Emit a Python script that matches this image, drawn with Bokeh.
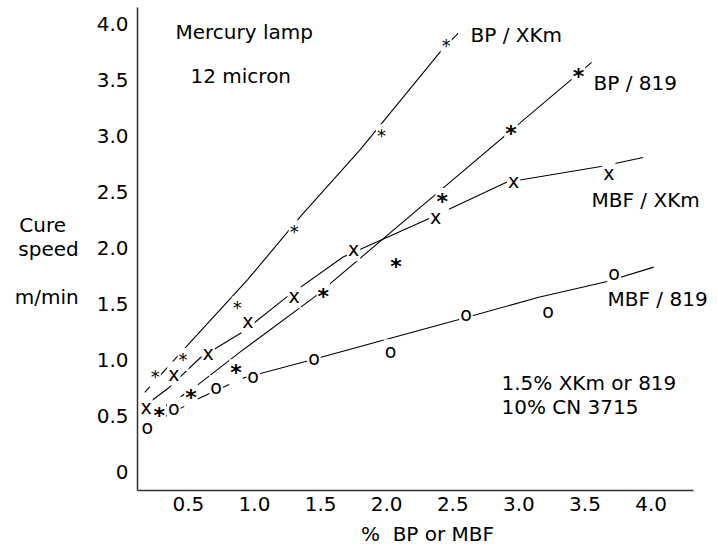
from bokeh.plotting import figure
from bokeh.models import Label, FixedTicker, Range1d
from bokeh.core.properties import value
from bokeh.embed import file_html
from bokeh.resources import INLINE

# ---- data ----
x_ticks = [0.5, 1.0, 1.5, 2.0, 2.5, 3.0, 3.5, 4.0]
y_ticks = [0, 0.5, 1.0, 1.5, 2.0, 2.5, 3.0, 3.5, 4.0]

# BP / XKm  (small *)
bpxkm_x = [0.25, 0.46, 0.87, 1.30, 1.96, 2.45]
bpxkm_y = [0.90, 1.05, 1.51, 2.19, 3.05, 3.86]
bpxkm_line_x = [0.17, 0.50, 0.95, 1.36, 1.80, 2.43, 2.54]
bpxkm_line_y = [0.71, 1.14, 1.72, 2.30, 2.88, 3.79, 3.92]

# BP / 819  (bold *)
bp819_x = [0.28, 0.52, 0.86, 1.52, 2.07, 2.42, 2.94, 3.45]
bp819_y = [0.56, 0.72, 0.94, 1.62, 1.89, 2.47, 3.08, 3.59]
bp819_line_x = [0.23, 0.52, 0.89, 1.45, 2.35, 3.55]
bp819_line_y = [0.52, 0.73, 1.07, 1.56, 2.46, 3.66]

# MBF / XKm  (x)
mbfxkm_x = [0.18, 0.39, 0.65, 0.95, 1.30, 1.75, 2.37, 2.96, 3.68]
mbfxkm_y = [0.57, 0.87, 1.05, 1.34, 1.56, 1.98, 2.27, 2.59, 2.66]
mbfxkm_line_x = [0.18, 0.35, 0.59, 0.91, 1.24, 1.67, 2.33, 2.91, 3.62, 3.94]
mbfxkm_line_y = [0.60, 0.75, 1.02, 1.25, 1.56, 1.92, 2.27, 2.59, 2.73, 2.81]

# MBF / 819  (o)
mbf819_x = [0.19, 0.39, 0.71, 0.99, 1.45, 2.03, 2.60, 3.22, 3.72]
mbf819_y = [0.39, 0.56, 0.75, 0.85, 1.01, 1.07, 1.40, 1.43, 1.77]
mbf819_line_x = [0.21, 0.57, 0.92, 1.40, 1.80, 2.54, 3.15, 3.66, 4.02]
mbf819_line_y = [0.42, 0.65, 0.84, 0.99, 1.12, 1.36, 1.56, 1.70, 1.83]

FONT = "DejaVu Sans"
NB = "\u00a0"

# pixel -> data helpers for annotation placement
def px2x(px):
    return (px - 121.8) / 132.2

def px2y(py):
    return (472.3 - py) / 112.1

p = figure(width=718, height=548, output_backend="svg", toolbar_location=None,
           x_range=Range1d(px2x(137), px2x(717)),
           y_range=Range1d(px2y(491), px2y(7)),
           min_border_left=137, min_border_right=1,
           min_border_top=7, min_border_bottom=57)

p.outline_line_color = None
p.background_fill_color = "white"
p.border_fill_color = "white"
p.xgrid.grid_line_color = None
p.ygrid.grid_line_color = None

for ax in (p.xaxis[0], p.yaxis[0]):
    ax.axis_line_color = "#333333"
    ax.axis_line_width = 1.5
    ax.major_tick_line_color = None
    ax.minor_tick_line_color = None
    ax.major_tick_out = 0
    ax.major_tick_in = 0
    ax.major_label_text_font = FONT
    ax.major_label_text_font_size = "20px"
    ax.major_label_text_color = "black"
    ax.axis_label_text_font = FONT
    ax.axis_label_text_font_size = "20px"
    ax.axis_label_text_font_style = "normal"
    ax.axis_label_text_color = "black"
    ax.axis_label_text_line_height = 1.0

p.xaxis.ticker = FixedTicker(ticks=x_ticks)
p.yaxis.ticker = FixedTicker(ticks=y_ticks)
p.xaxis.major_label_overrides = {t: f"{t:.1f}" for t in x_ticks}
p.yaxis.major_label_overrides = {t: ("0" if t == 0 else f"{t:.1f}") for t in y_ticks}
p.xaxis.major_label_standoff = 6
p.yaxis.major_label_standoff = 9
p.xaxis.bounds = (px2x(137), px2x(693))

p.xaxis.axis_label = "%" + NB + " BP or MBF"
p.xaxis.axis_label_standoff = 8
p.yaxis.axis_label = "\nCure" + NB * 2 + "\nspeed\n\nm/min"
p.yaxis.axis_label_orientation = "horizontal"
p.yaxis.axis_label_standoff = 15

# trend lines
for lx, ly in [(bpxkm_line_x, bpxkm_line_y), (bp819_line_x, bp819_line_y),
               (mbfxkm_line_x, mbfxkm_line_y), (mbf819_line_x, mbf819_line_y)]:
    p.line(lx, ly, line_color="black", line_width=1.1)

# markers as characters, with white background to break the lines
def marks(xs, ys, ch, size, offset, style="normal"):
    p.text(xs, ys, text=value(ch), text_font=value(FONT), text_font_size=size,
           text_font_style=style, text_align="center", text_baseline="middle",
           text_color="black", y_offset=offset,
           background_fill_color="white", padding=1)

marks(bpxkm_x, bpxkm_y, "*", "18px", 5)
marks(bp819_x, bp819_y, "*", "22px", 6, "bold")
marks(mbfxkm_x, mbfxkm_y, "x", "19px", -1)
marks(mbf819_x, mbf819_y, "o", "19px", -1)

labels = [
    ("Mercury lamp", 175, 32),
    ("12 micron", 190, 76),
    ("BP / XKm", 470, 35),
    ("BP / 819", 593, 83),
    ("MBF / XKm", 591, 200),
    ("MBF / 819", 607, 299),
    ("1.5% XKm or 819", 501, 383),
    ("10% CN 3715", 501, 407),
]
for txt, lx, ly in labels:
    p.add_layout(Label(x=px2x(lx), y=px2y(ly), text=txt, text_font=FONT,
                       text_font_size="20px", text_color="black",
                       text_align="left", text_baseline="middle"))

open("out.html", "w").write(file_html(p, INLINE))
